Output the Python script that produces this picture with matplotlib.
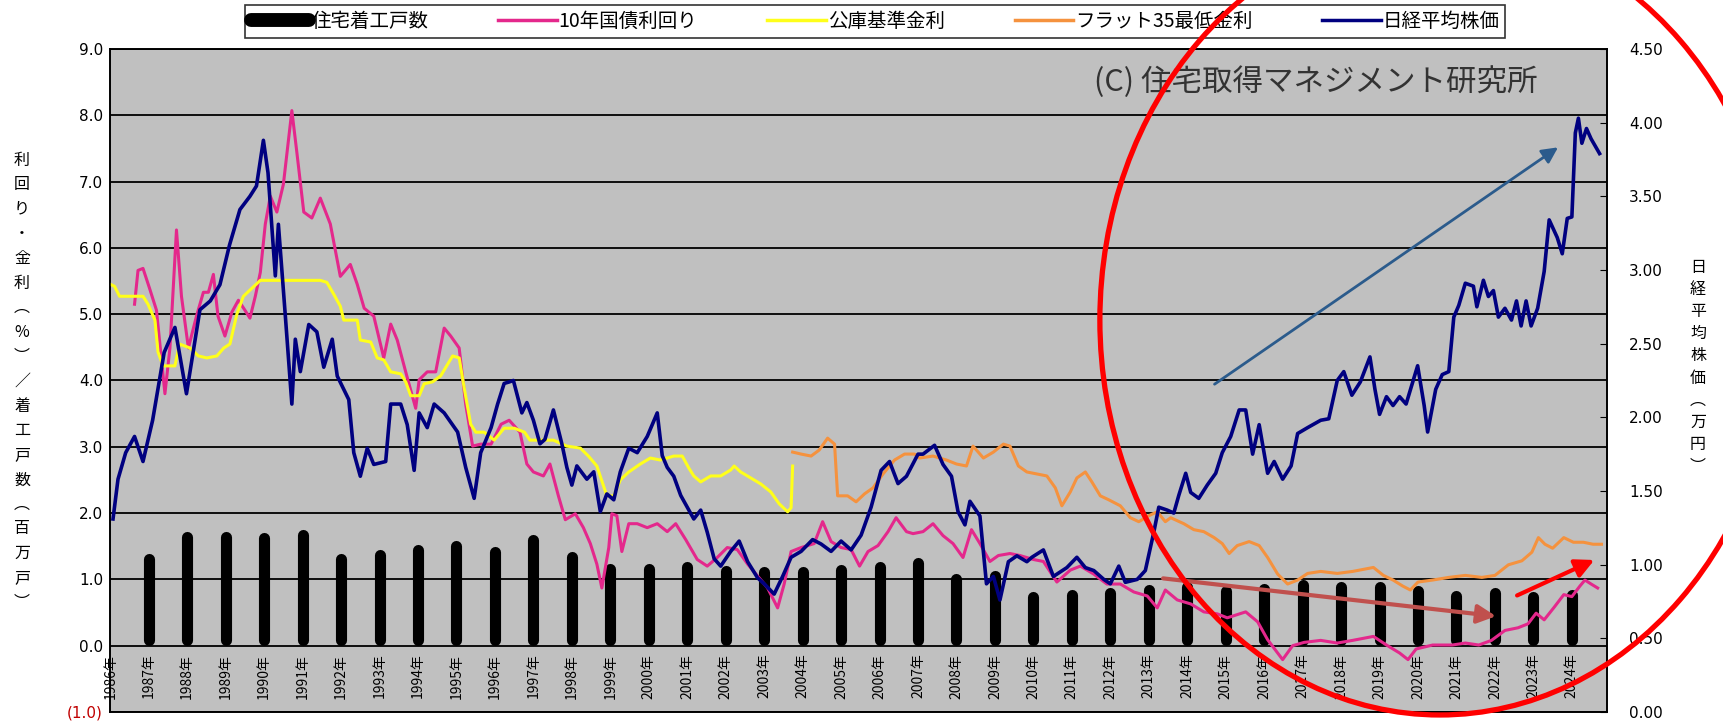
import numpy as np
import matplotlib
matplotlib.use("Agg")
import matplotlib.pyplot as plt
from matplotlib.lines import Line2D
from matplotlib.patches import Ellipse

plt.rcParams['font.family'] = ['Noto Sans CJK JP', 'DejaVu Sans']

# --- data ---
# housing starts (million units), bar at each year label
bar_years = list(range(1987, 2025))
housing_starts = [1.39, 1.72, 1.72, 1.70, 1.75, 1.39, 1.45, 1.52, 1.59, 1.50,
                  1.67, 1.42, 1.23, 1.23, 1.27, 1.21, 1.19, 1.19, 1.22, 1.27,
                  1.32, 1.09, 1.13, 0.81, 0.84, 0.88, 0.92, 0.97, 0.90, 0.93,
                  0.99, 0.97, 0.96, 0.91, 0.83, 0.87, 0.82, 0.84]

# 10-year JGB yield (%)
jgb_t = [1986.63, 1986.72, 1986.85, 1987.02, 1987.20, 1987.42, 1987.55, 1987.72, 1987.85, 1988.03,
         1988.24, 1988.42, 1988.55, 1988.68, 1988.80, 1988.98, 1989.16, 1989.33, 1989.50, 1989.63,
         1989.77, 1989.90, 1990.03, 1990.16, 1990.33, 1990.50, 1990.72, 1990.85, 1991.03, 1991.24,
         1991.46, 1991.72, 1991.98, 1992.24, 1992.42, 1992.60, 1992.85, 1993.11, 1993.29, 1993.46,
         1993.68, 1993.94, 1994.03, 1994.24, 1994.46, 1994.68, 1994.85, 1995.07, 1995.24, 1995.42,
         1995.63, 1995.90, 1996.16, 1996.37, 1996.65, 1996.83, 1997.00, 1997.26, 1997.43, 1997.65,
         1997.83, 1998.09, 1998.30, 1998.48, 1998.65, 1998.78, 1998.96, 1999.04, 1999.17, 1999.30,
         1999.48, 1999.70, 1999.96, 2000.22, 2000.48, 2000.70, 2000.96, 2001.26, 2001.52, 2001.78,
         2002.04, 2002.30, 2002.57, 2002.83, 2003.09, 2003.35, 2003.52, 2003.70, 2003.96, 2004.30,
         2004.52, 2004.74, 2005.00, 2005.26, 2005.48, 2005.70, 2005.96, 2006.22, 2006.43, 2006.70,
         2006.87, 2007.13, 2007.39, 2007.65, 2007.91, 2008.17, 2008.39, 2008.61, 2008.87, 2009.09,
         2009.39, 2009.65, 2010.00, 2010.26, 2010.61, 2010.96, 2011.22, 2011.57, 2011.91, 2012.26,
         2012.61, 2012.96, 2013.22, 2013.43, 2013.74, 2014.09, 2014.43, 2014.78, 2015.04, 2015.52,
         2015.83, 2016.09, 2016.48, 2016.74, 2017.04, 2017.47, 2017.90, 2018.30, 2018.84, 2019.18,
         2019.52, 2019.74, 2019.95, 2020.38, 2020.89, 2021.23, 2021.58, 2021.91, 2022.26, 2022.60,
         2022.86, 2023.07, 2023.28, 2023.54, 2023.79, 2024.00, 2024.21, 2024.34, 2024.50, 2024.67]
jgb = [5.15, 5.66, 5.69, 5.39, 5.06, 3.80, 4.49, 6.27, 5.27, 4.49,
       4.97, 5.33, 5.33, 5.60, 4.97, 4.67, 5.03, 5.21, 5.06, 4.94,
       5.27, 5.63, 6.36, 6.78, 6.54, 6.96, 8.07, 7.44, 6.54, 6.45,
       6.75, 6.36, 5.57, 5.75, 5.45, 5.09, 4.97, 4.34, 4.85, 4.61,
       4.13, 3.58, 4.01, 4.13, 4.13, 4.79, 4.67, 4.49, 3.64, 3.01,
       3.04, 3.04, 3.34, 3.40, 3.22, 2.74, 2.62, 2.56, 2.74, 2.26,
       1.90, 1.99, 1.78, 1.54, 1.23, 0.87, 1.48, 1.99, 1.96, 1.42,
       1.84, 1.84, 1.78, 1.84, 1.72, 1.84, 1.60, 1.30, 1.20, 1.33,
       1.48, 1.45, 1.23, 1.05, 0.87, 0.57, 0.93, 1.42, 1.48, 1.54,
       1.87, 1.57, 1.48, 1.45, 1.20, 1.42, 1.51, 1.72, 1.93, 1.72,
       1.69, 1.72, 1.84, 1.66, 1.54, 1.33, 1.75, 1.54, 1.27, 1.36,
       1.39, 1.36, 1.30, 1.27, 0.96, 1.14, 1.20, 1.08, 0.93, 0.93,
       0.81, 0.75, 0.57, 0.84, 0.69, 0.63, 0.51, 0.48, 0.42, 0.51,
       0.36, 0.09, -0.21, 0.00, 0.05, 0.08, 0.04, 0.08, 0.14, 0.01,
       -0.11, -0.21, -0.05, 0.01, 0.01, 0.04, 0.01, 0.08, 0.23, 0.27,
       0.33, 0.49, 0.39, 0.58, 0.77, 0.74, 0.90, 0.99, 0.93, 0.87]

# 公庫基準金利 (%)
koko_t = [1986.00, 1986.11, 1986.24, 1986.59, 1986.85, 1986.98, 1987.16, 1987.24, 1987.37, 1987.68,
          1987.80, 1988.07, 1988.29, 1988.51, 1988.77, 1988.95, 1989.11, 1989.29, 1989.46, 1989.68,
          1989.90, 1990.16, 1990.59, 1991.03, 1991.46, 1991.63, 1991.81, 1991.98, 1992.07, 1992.42,
          1992.50, 1992.77, 1992.94, 1993.11, 1993.29, 1993.55, 1993.68, 1993.81, 1994.03, 1994.16,
          1994.38, 1994.59, 1994.90, 1995.07, 1995.20, 1995.37, 1995.50, 1995.72, 1995.98, 1996.24,
          1996.50, 1996.77, 1996.91, 1997.26, 1997.52, 1997.87, 1998.22, 1998.43, 1998.65, 1998.91,
          1999.09, 1999.26, 1999.48, 1999.78, 2000.04, 2000.30, 2000.65, 2000.87, 2001.04, 2001.17,
          2001.35, 2001.61, 2001.87, 2002.13, 2002.22, 2002.39, 2002.65, 2002.91, 2003.17, 2003.39,
          2003.61, 2003.70, 2003.74]
koko = [5.45, 5.42, 5.27, 5.27, 5.27, 5.15, 4.91, 4.43, 4.22, 4.22,
        4.55, 4.49, 4.37, 4.34, 4.37, 4.49, 4.55, 5.00, 5.27, 5.39,
        5.51, 5.51, 5.51, 5.51, 5.51, 5.48, 5.30, 5.12, 4.91, 4.91,
        4.61, 4.58, 4.34, 4.31, 4.13, 4.10, 3.98, 3.77, 3.77, 3.95,
        3.98, 4.07, 4.37, 4.34, 3.89, 3.34, 3.22, 3.22, 3.10, 3.28,
        3.28, 3.22, 3.10, 3.10, 3.10, 3.01, 2.98, 2.86, 2.71, 2.26,
        2.26, 2.50, 2.62, 2.74, 2.83, 2.80, 2.86, 2.86, 2.68, 2.56,
        2.47, 2.56, 2.56, 2.65, 2.71, 2.62, 2.53, 2.44, 2.32, 2.14,
        2.02, 2.08, 2.71]

# フラット35最低金利 (%)
flat_t = [2003.74, 2003.96, 2004.22, 2004.43, 2004.65, 2004.83, 2004.91, 2005.17, 2005.39, 2005.61,
          2005.83, 2006.09, 2006.39, 2006.65, 2006.91, 2007.04, 2007.39, 2007.74, 2008.00, 2008.26,
          2008.43, 2008.70, 2008.96, 2009.22, 2009.39, 2009.61, 2009.83, 2010.09, 2010.35, 2010.57,
          2010.74, 2010.96, 2011.13, 2011.35, 2011.52, 2011.74, 2011.96, 2012.26, 2012.52, 2012.74,
          2013.00, 2013.22, 2013.43, 2013.57, 2013.91, 2014.17, 2014.43, 2014.70, 2014.91, 2015.09,
          2015.30, 2015.61, 2015.87, 2016.09, 2016.35, 2016.61, 2016.87, 2017.13, 2017.47, 2017.90,
          2018.30, 2018.84, 2019.10, 2019.35, 2019.60, 2019.80, 2020.00, 2020.38, 2020.80, 2021.23,
          2021.66, 2022.00, 2022.35, 2022.70, 2022.96, 2023.13, 2023.30, 2023.50, 2023.79, 2024.04,
          2024.30, 2024.55, 2024.77]
flat35 = [2.92, 2.89, 2.86, 2.95, 3.13, 3.04, 2.26, 2.26, 2.17, 2.29,
          2.38, 2.59, 2.80, 2.89, 2.89, 2.83, 2.86, 2.80, 2.74, 2.71,
          3.01, 2.83, 2.92, 3.04, 3.01, 2.71, 2.62, 2.59, 2.56, 2.38,
          2.11, 2.32, 2.53, 2.62, 2.47, 2.26, 2.20, 2.11, 1.93, 1.87,
          1.96, 2.02, 1.87, 1.93, 1.84, 1.75, 1.72, 1.63, 1.54, 1.39,
          1.51, 1.57, 1.51, 1.33, 1.08, 0.93, 0.99, 1.09, 1.12, 1.09,
          1.12, 1.18, 1.06, 0.99, 0.90, 0.84, 0.96, 0.99, 1.03, 1.06,
          1.03, 1.06, 1.22, 1.28, 1.41, 1.63, 1.53, 1.47, 1.63, 1.56,
          1.56, 1.53, 1.53]

# 日経平均株価 (万円)
nikkei_t = [1986.07, 1986.20, 1986.40, 1986.63, 1986.85, 1987.10, 1987.40, 1987.68, 1987.98, 1988.33,
            1988.60, 1988.85, 1989.10, 1989.37, 1989.63, 1989.80, 1989.98, 1990.10, 1990.29, 1990.37,
            1990.55, 1990.72, 1990.81, 1990.94, 1991.16, 1991.37, 1991.55, 1991.77, 1991.90, 1992.20,
            1992.33, 1992.50, 1992.68, 1992.85, 1993.16, 1993.29, 1993.55, 1993.72, 1993.90, 1994.03,
            1994.24, 1994.42, 1994.68, 1995.03, 1995.24, 1995.46, 1995.63, 1995.90, 1996.07, 1996.24,
            1996.37, 1996.48, 1996.70, 1996.83, 1997.00, 1997.17, 1997.30, 1997.52, 1997.74, 1997.87,
            1998.00, 1998.13, 1998.39, 1998.57, 1998.74, 1998.91, 1999.09, 1999.26, 1999.48, 1999.70,
            1999.96, 2000.22, 2000.35, 2000.48, 2000.65, 2000.83, 2001.00, 2001.17, 2001.35, 2001.52,
            2001.70, 2001.87, 2002.13, 2002.35, 2002.57, 2002.83, 2003.00, 2003.26, 2003.48, 2003.70,
            2003.96, 2004.26, 2004.48, 2004.74, 2005.00, 2005.26, 2005.52, 2005.78, 2006.04, 2006.26,
            2006.48, 2006.70, 2007.00, 2007.13, 2007.43, 2007.65, 2007.87, 2008.04, 2008.22, 2008.35,
            2008.61, 2008.78, 2008.96, 2009.13, 2009.35, 2009.57, 2009.83, 2009.96, 2010.26, 2010.52,
            2010.87, 2011.13, 2011.35, 2011.57, 2011.83, 2012.00, 2012.22, 2012.39, 2012.70, 2012.91,
            2013.13, 2013.26, 2013.48, 2013.65, 2013.78, 2013.96, 2014.09, 2014.30, 2014.52, 2014.74,
            2014.91, 2015.13, 2015.35, 2015.52, 2015.70, 2015.87, 2016.09, 2016.26, 2016.48, 2016.70,
            2016.87, 2017.13, 2017.47, 2017.68, 2017.90, 2018.07, 2018.28, 2018.50, 2018.75, 2018.88,
            2019.00, 2019.18, 2019.35, 2019.52, 2019.69, 2019.99, 2020.16, 2020.25, 2020.46, 2020.63,
            2020.80, 2020.93, 2021.06, 2021.23, 2021.44, 2021.53, 2021.70, 2021.83, 2021.96, 2022.09,
            2022.26, 2022.43, 2022.56, 2022.68, 2022.81, 2022.94, 2023.11, 2023.28, 2023.41, 2023.62,
            2023.75, 2023.88, 2024.00, 2024.09, 2024.17, 2024.26, 2024.38, 2024.50, 2024.72]
nikkei = [1.31, 1.58, 1.76, 1.87, 1.70, 1.98, 2.44, 2.61, 2.16, 2.73,
          2.79, 2.90, 3.17, 3.41, 3.50, 3.57, 3.88, 3.66, 2.96, 3.31,
          2.69, 2.09, 2.53, 2.31, 2.63, 2.58, 2.34, 2.53, 2.28, 2.12,
          1.76, 1.60, 1.79, 1.68, 1.70, 2.09, 2.09, 1.95, 1.64, 2.03,
          1.93, 2.09, 2.03, 1.90, 1.66, 1.45, 1.76, 1.93, 2.09, 2.23,
          2.24, 2.25, 2.03, 2.10, 1.98, 1.82, 1.85, 2.05, 1.82, 1.66,
          1.54, 1.67, 1.58, 1.63, 1.36, 1.48, 1.44, 1.63, 1.79, 1.76,
          1.87, 2.03, 1.74, 1.66, 1.60, 1.47, 1.39, 1.31, 1.37, 1.22,
          1.04, 0.99, 1.09, 1.16, 1.02, 0.91, 0.87, 0.80, 0.92, 1.05,
          1.09, 1.17, 1.14, 1.09, 1.16, 1.10, 1.20, 1.39, 1.64, 1.70,
          1.55, 1.60, 1.75, 1.75, 1.81, 1.68, 1.60, 1.36, 1.27, 1.43,
          1.33, 0.87, 0.92, 0.76, 1.02, 1.06, 1.02, 1.05, 1.10, 0.92,
          0.98, 1.05, 0.98, 0.96, 0.90, 0.87, 0.99, 0.88, 0.90, 0.96,
          1.22, 1.39, 1.37, 1.35, 1.47, 1.62, 1.49, 1.45, 1.54, 1.62,
          1.76, 1.87, 2.05, 2.05, 1.75, 1.95, 1.62, 1.70, 1.58, 1.67,
          1.89, 1.93, 1.98, 1.99, 2.25, 2.31, 2.15, 2.24, 2.41, 2.19,
          2.02, 2.14, 2.08, 2.14, 2.09, 2.35, 2.08, 1.90, 2.19, 2.29,
          2.31, 2.68, 2.76, 2.91, 2.89, 2.75, 2.93, 2.82, 2.86, 2.68,
          2.74, 2.66, 2.79, 2.62, 2.79, 2.62, 2.74, 2.99, 3.34, 3.22,
          3.11, 3.35, 3.36, 3.93, 4.03, 3.86, 3.96, 3.89, 3.79]

year_labels = [f"{y}年" for y in range(1986, 2025)]
left_ticks = list(range(-1, 10))
right_ticks = [0.0, 0.5, 1.0, 1.5, 2.0, 2.5, 3.0, 3.5, 4.0, 4.5]

c_jgb = "#e4288c"
c_koko = "#ffff1a"
c_flat = "#f5923e"
c_nikkei = "#000080"

fig = plt.figure(figsize=(17.23, 7.21), dpi=100)
ax = fig.add_axes([0.0638, 0.0125, 0.8688, 0.9196])
ax.set_facecolor("#c0c0c0")
ax.set_xlim(1985.99, 2024.91)
ax.set_ylim(-1, 9)
ax.set_xticks([])
ax.set_yticks(left_ticks)
ax.set_yticklabels(["(1.0)"] + [f"{v:.1f}" for v in left_ticks[1:]],
                   fontsize=11, family="DejaVu Sans")
ax.get_yticklabels()[0].set_color("#c00000")
ax.tick_params(axis="y", length=0, pad=5)
ax.yaxis.grid(True, color="black", lw=1.3)
ax.set_axisbelow(True)
for s in ax.spines.values():
    s.set_color("black")
    s.set_linewidth(1.2)

# bars drawn as thick round-capped lines (cap kept inside value)
cap = 0.08
ax.vlines(bar_years, cap, np.array(housing_starts) - cap, color="black",
          lw=8, capstyle="round", zorder=3)

ax.plot(jgb_t, jgb, color=c_jgb, lw=2.2, zorder=4)
ax.plot(koko_t, koko, color=c_koko, lw=2.2, zorder=5)
ax.plot(flat_t, flat35, color=c_flat, lw=2.2, zorder=6)

for y, lab in zip(range(1986, 2025), year_labels):
    ax.text(y, -0.12, lab, rotation=90, ha="center", va="top", fontsize=10)

ax2 = ax.twinx()
ax2.set_ylim(0, 4.5)
ax2.set_yticks(right_ticks)
ax2.set_yticklabels([f"{v:.2f}" for v in right_ticks], fontsize=11, family="DejaVu Sans")
ax2.tick_params(axis="y", direction="in", length=5, pad=16)
for s in ax2.spines.values():
    s.set_color("black")
    s.set_linewidth(1.2)
ax2.plot(nikkei_t, nikkei, color=c_nikkei, lw=2.6, zorder=7)

# watermark
fig.text(0.8926, 0.886, "(C) 住宅取得マネジメント研究所", ha="right", va="center",
         fontsize=22, color="#333333")

# stacked axis titles
left_title = "利回り・金利︵%︶／着工戸数︵百万戸︶"
for i, ch in enumerate(left_title):
    fig.text(0.0128, 1 - (160 + i * 24.6) / 721, ch, ha="center", va="center", fontsize=11.5)
right_title = "日経平均株価︵万円︶"
for i, ch in enumerate(right_title):
    fig.text(0.9855, 1 - (267 + i * 22.2) / 721, ch, ha="center", va="center", fontsize=11.5)

# legend
handles = [Line2D([], [], color="black", lw=10, solid_capstyle="round"),
           Line2D([], [], color=c_jgb, lw=2.5),
           Line2D([], [], color=c_koko, lw=2.5),
           Line2D([], [], color=c_flat, lw=2.5),
           Line2D([], [], color=c_nikkei, lw=2.5)]
labels = ["住宅着工戸数", "10年国債利回り", "公庫基準金利", "フラット35最低金利", "日経平均株価"]
leg = fig.legend(handles, labels, loc="upper center", bbox_to_anchor=(0.508, 0.993),
                 ncol=5, frameon=True, fancybox=False, edgecolor="black", fontsize=14,
                 handlelength=3.0, columnspacing=3.6, handletextpad=0.1, borderpad=0.3,
                 borderaxespad=0)
leg.get_frame().set_linewidth(1.2)

# hand-drawn annotations on top
ax2.annotate("", xy=(2023.7, 7.54), xytext=(2014.65, 3.92), xycoords=ax.transData,
             textcoords=ax.transData,
             arrowprops=dict(arrowstyle="-|>", color="#2b5b8c", lw=2, mutation_scale=24))
ax2.annotate("", xy=(2022.1, 0.44), xytext=(2013.3, 1.02), xycoords=ax.transData,
             textcoords=ax.transData,
             arrowprops=dict(arrowstyle="-|>", color="#c0504d", lw=3, mutation_scale=28))
ax2.annotate("", xy=(2024.65, 1.31), xytext=(2022.51, 0.74), xycoords=ax.transData,
             textcoords=ax.transData,
             arrowprops=dict(arrowstyle="-|>", color="#ff0000", lw=3, mutation_scale=28))
fig.add_artist(Ellipse((0.8357, 0.5562), 0.3947, 1.0957, transform=fig.transFigure,
                       fill=False, edgecolor="#ff0000", lw=3.8, zorder=20))

fig.savefig("out.png", dpi=100)
